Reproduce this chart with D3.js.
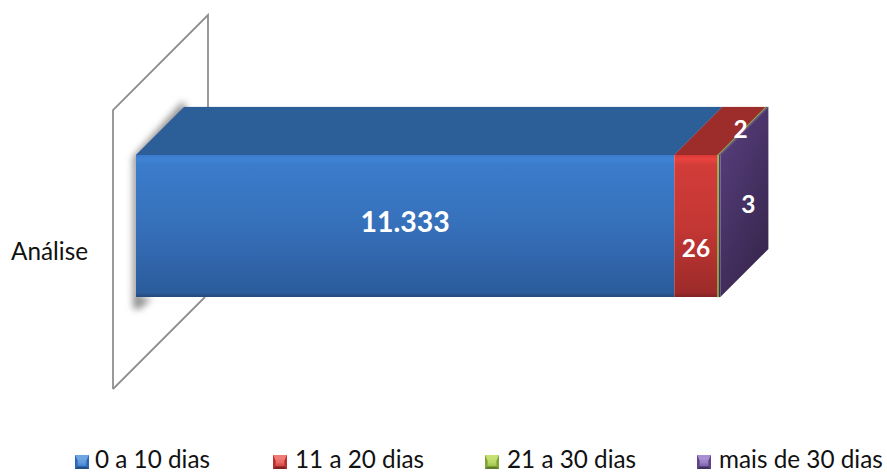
<!DOCTYPE html>
<html><head><meta charset="utf-8">
<script src="https://cdn.jsdelivr.net/npm/d3@7/dist/d3.min.js"></script>
<style>html,body{margin:0;padding:0;background:#fff}svg{display:block}text{font-family:Lato,"Open Sans",sans-serif}</style>
</head><body><svg id="c" width="887" height="472"></svg>
<script>
const categories = ["Análise"];
const seriesNames = ["0 a 10 dias","11 a 20 dias","21 a 30 dias","mais de 30 dias"];
const seriesValues = [11333,26,2,3];
const valueLabels = ["11.333","26","2","3"];

const svg = d3.select("#c");
const defs = svg.append("defs");
function grad(id,stops,x2=0,y2=1){
  const g=defs.append("linearGradient").attr("id",id).attr("x1",0).attr("y1",0).attr("x2",x2).attr("y2",y2);
  stops.forEach(s=>g.append("stop").attr("offset",s[0]).attr("stop-color",s[1]));
}
const front=[
 [[0,"#3a7bcb"],[.03,"#4083d6"],[.07,"#3b7ccb"],[.5,"#3670ba"],[.97,"#2b5c9c"],[1,"#24497c"]],
 [[0,"#d83a38"],[.03,"#ea4340"],[.07,"#d23c39"],[.5,"#c43734"],[.97,"#9c2b29"],[1,"#7f2321"]],
 [[0,"#9fc94c"],[.5,"#8fb344"],[1,"#6f8c33"]],
 [[0,"#5a4080"],[1,"#3f2c59"]]
];
front.forEach((s,i)=>grad("f"+i,s));
const topCol=["#2c5e98","#9c2d2a","#7f9f3c","#5a4080"];
grad("side",[[0,"#5a4080"],[1,"#38274f"]],.6,1);
const legPal=[["#6ea6e4","#3f7fcf","#2f68b0","#234f88"],["#ef7a76","#d43f3c","#b53230","#7d2321"],["#c6e070","#9cc24a","#82a33a","#5f7a28"],["#a78fd0","#7a5ca8","#5f4488","#43305f"]];
legPal.forEach((p,i)=>grad("s"+i,[[0,p[0]],[1,p[1]]]));
defs.append("filter").attr("id","blur").attr("x","-40%").attr("y","-40%").attr("width","180%").attr("height","180%")
  .append("feGaussianBlur").attr("stdDeviation",3.5);

// geometry
const depth=48;
const y=d3.scaleBand().domain(categories).range([155,297]);
// the reference bar is not proportional: piecewise value -> length scale
const len=d3.scaleLinear().domain([0,2,3,26,11333]).range([0,1.3,1.4,43.4,538.3]);
const x0=136;
const segs=[];let cur=x0;
seriesValues.forEach((v,i)=>{const w=len(v);segs.push({i,v,x:cur,w});cur+=w;});
const xEnd=cur, yT=y(categories[0]), yB=yT+y.bandwidth();

// shadow
svg.append("path").attr("d",`M${x0-3},${yT+2}L${x0+depth-1},${yT-depth-6}L${x0+depth+4},${yT-depth+6}L${x0+4},${yT+8}L${x0+4},${yB}L${x0+16},${yB+1}L${x0+4},${yB+12}L${x0-3},${yB+12}Z`)
  .attr("fill","#777").attr("opacity",.8).attr("filter","url(#blur)");
// wall
svg.append("path").attr("d",`M${x0-23},${yB+92}L${x0-23},${yT-45}L${x0+72},${yT-140}L${x0+72},${yT-47}`)
  .attr("fill","none").attr("stroke","#8f8f8f").attr("stroke-width",1.8);
svg.append("path").attr("d",`M${x0-23},${yB+92}L${x0+69},${yB}`)
  .attr("fill","none").attr("stroke","#8f8f8f").attr("stroke-width",1.8);

// top faces + front faces
const g=svg.append("g");
g.selectAll("path.t").data(segs).join("path").attr("class","t")
  .attr("d",d=>`M${d.x},${yT}L${d.x+depth},${yT-depth}L${d.x+d.w+depth},${yT-depth}L${d.x+d.w},${yT}Z`)
  .attr("fill",d=>topCol[d.i]).attr("stroke",d=>topCol[d.i]).attr("stroke-width",d=>d.i==2?.7:.2);
g.selectAll("rect.f").data(segs).join("rect").attr("class","f")
  .attr("x",d=>d.x).attr("y",yT).attr("width",d=>d.w).attr("height",y.bandwidth())
  .attr("fill",d=>`url(#f${d.i})`).attr("stroke",d=>d.i==2?"#8fb344":"none").attr("stroke-width",d=>d.i==2?.7:0);
// side face
g.append("path").attr("d",`M${xEnd},${yT}L${xEnd+depth},${yT-depth}L${xEnd+depth},${yB-depth}L${xEnd},${yB}Z`)
  .attr("fill","url(#side)");

// value labels
const labelPos=[
 {dx:(s)=>s.x+s.w/2,y:yT+70,size:28.5},
 {dx:(s)=>s.x+s.w/2,y:yB-46,size:24.5},
 {dx:(s)=>s.x+depth/2-1,y:yT-23,size:24.5},
 {dx:(s)=>s.x+s.w+depth/2+4,y:yT+52,size:24.5}
];
svg.selectAll("text.v").data(segs).join("text").attr("class","v")
  .attr("x",d=>labelPos[d.i].dx(d)).attr("y",d=>labelPos[d.i].y)
  .attr("text-anchor","middle").attr("dominant-baseline","middle")
  .attr("font-size",d=>labelPos[d.i].size).attr("font-weight",700).attr("fill","#fff")
  .text(d=>valueLabels[d.i]);

// category label
svg.selectAll("text.c").data(categories).join("text").attr("class","c")
  .attr("x",88).attr("y",d=>y(d)+y.bandwidth()/2+34).attr("text-anchor","end")
  .attr("font-size",24.3).attr("fill","#111").text(d=>d);

// legend
const legX=d3.scaleOrdinal().domain(seriesNames).range([75,273,485,697]);
const sw=14;
const leg=svg.selectAll("g.l").data(seriesNames).join("g").attr("class","l")
  .attr("transform",d=>`translate(${legX(d)},455)`);
leg.each(function(d,i){
  const s=d3.select(this), p=legPal[i], b=2.5;
  s.append("rect").attr("width",sw).attr("height",sw).attr("fill",p[1]);
  s.append("path").attr("d",`M0,0L${sw},0L${sw-b},${b+3}L${b},${b+3}Z`).attr("fill",p[0]);
  s.append("rect").attr("x",b).attr("y",b+3).attr("width",sw-2*b).attr("height",sw-2*b-3).attr("fill",`url(#s${i})`);
  s.append("path").attr("d",`M0,0L${b},${b+3}L${b},${sw-b}L0,${sw}Z`).attr("fill",p[2]);
  s.append("path").attr("d",`M${sw},0L${sw-b},${b+3}L${sw-b},${sw-b}L${sw},${sw}Z`).attr("fill",p[2]);
  s.append("path").attr("d",`M0,${sw}L${b},${sw-b}L${sw-b},${sw-b}L${sw},${sw}Z`).attr("fill",p[3]);
});
leg.append("text").attr("x",(d,i)=>[20,22,22,22][i]).attr("y",13).attr("font-size",24.3).attr("fill","#111").text(d=>d);
</script></body></html>
